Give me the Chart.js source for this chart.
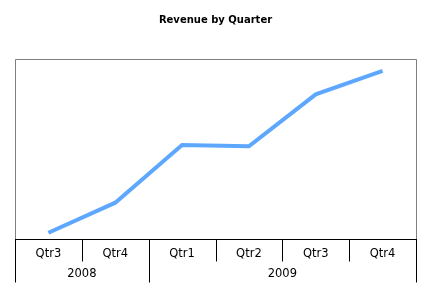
<!DOCTYPE html>
<html>
<head>
<meta charset="utf-8">
<script src="https://cdn.jsdelivr.net/npm/chart.js@4"></script>
<style>
html,body{margin:0;padding:0;background:#fff;}
#wrap{width:433px;height:305px;position:relative;}
</style>
</head>
<body>
<div id="wrap"><canvas id="c" width="433" height="305"></canvas></div>
<script>
const title = 'Revenue by Quarter';
const quarters = ['Qtr3', 'Qtr4', 'Qtr1', 'Qtr2', 'Qtr3', 'Qtr4'];
const years = ['2008', '2009'];
const yearSpans = [2, 4];
const revenue = [3.2, 19.9, 51.9, 51.2, 80.1, 93.1];

const labels = quarters.map((q, i) => {
  let acc = 0;
  for (let k = 0; k < years.length; k++) {
    if (i < acc + yearSpans[k]) return years[k] + ' ' + q;
    acc += yearSpans[k];
  }
  return q;
});

const FONT = '"DejaVu Sans", Verdana, sans-serif';

const groupAxis = {
  id: 'groupAxis',
  afterDraw(chart) {
    const ctx = chart.ctx;
    const a = chart.chartArea;
    const n = quarters.length;
    const step = (a.right - a.left) / n;
    const L = Math.round(a.left) + 0.5;
    const R = Math.round(a.right) + 0.5;
    const T = Math.round(a.top) + 0.5;
    const B = Math.round(a.bottom) + 0.5;
    ctx.save();
    ctx.lineWidth = 1;
    ctx.strokeStyle = '#808080';
    ctx.beginPath();
    ctx.moveTo(L, B); ctx.lineTo(L, T); ctx.lineTo(R, T); ctx.lineTo(R, B);
    ctx.stroke();
    ctx.strokeStyle = '#000';
    ctx.beginPath();
    ctx.moveTo(L - 0.5, B); ctx.lineTo(R + 0.5, B);
    ctx.stroke();
    const qBottom = B + 22;
    const yBottom = B + 43;
    const yearBounds = [0];
    let acc = 0;
    yearSpans.forEach(s => { acc += s; yearBounds.push(acc); });
    ctx.beginPath();
    for (let i = 0; i <= n; i++) {
      const x = Math.round(a.left + i * step) + 0.5;
      const isYear = yearBounds.includes(i);
      ctx.moveTo(x, B);
      ctx.lineTo(x, isYear ? yBottom : qBottom);
    }
    ctx.stroke();
    ctx.fillStyle = '#000';
    ctx.font = '11.5px ' + FONT;
    ctx.textAlign = 'center';
    ctx.textBaseline = 'middle';
    const xs = chart.scales.x;
    for (let i = 0; i < n; i++) {
      ctx.fillText(quarters[i], xs.getPixelForValue(i), B + 14.5);
    }
    for (let k = 0; k < years.length; k++) {
      const cx = a.left + (yearBounds[k] + yearBounds[k + 1]) / 2 * step;
      ctx.fillText(years[k], cx, B + 35);
    }
    ctx.restore();
  }
};

new Chart(document.getElementById('c'), {
  type: 'line',
  data: {
    labels: labels,
    datasets: [{
      data: revenue,
      borderColor: 'rgb(94,167,255)',
      borderWidth: 4,
      pointRadius: 0,
      tension: 0,
      fill: false,
      clip: false
    }]
  },
  options: {
    responsive: false,
    animation: false,
    devicePixelRatio: 1,
    layout: { padding: { left: 15, right: 17, top: 0, bottom: 66.5 } },
    plugins: {
      legend: { display: false },
      tooltip: { enabled: false },
      title: {
        display: true,
        text: title,
        color: '#000',
        font: { family: FONT, size: 10, weight: 'bold', lineHeight: 1.2 },
        padding: { top: 14, bottom: 32.5 }
      }
    },
    scales: {
      x: { display: false, offset: true },
      y: { display: false, min: 0, max: 100 }
    }
  },
  plugins: [groupAxis]
});
</script>
</body>
</html>
